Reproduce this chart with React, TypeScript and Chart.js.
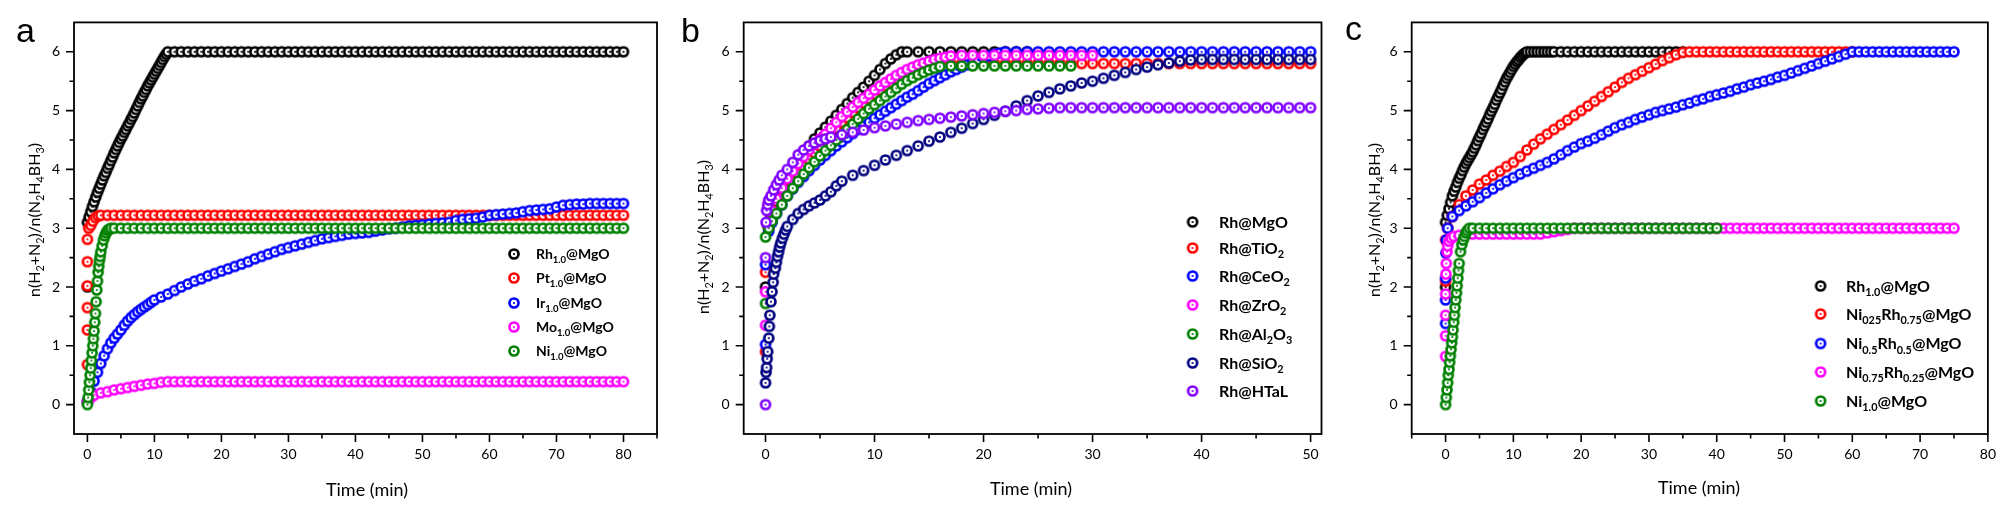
import { useEffect, useRef } from 'react'
import { Chart, registerables } from 'chart.js'

Chart.register(...registerables)

// ---------- panel a : M1.0@MgO ----------
const A_RH_T = [
  0,
  0, 0.25, 0.5, 0.75, 1, 1.25, 1.5, 1.75, 2, 2.25, 2.5, 2.75, 3, 3.25, 3.5, 3.75, 4, 4.25, 4.5, 4.75,
  5, 5.25, 5.5, 5.75, 6, 6.25, 6.5, 6.75, 7, 7.25, 7.5, 7.75, 8, 8.25, 8.5, 8.75, 9, 9.25, 9.5, 9.75,
  10, 10.25, 10.5, 10.75, 11, 11.25, 11.5, 11.75, 12,
  13, 14, 15, 16, 17, 18, 19, 20, 21, 22, 23, 24, 25, 26, 27, 28, 29, 30, 31, 32, 33, 34, 35, 36,
  37, 38, 39, 40, 41, 42, 43, 44, 45, 46, 47, 48, 49, 50, 51, 52, 53, 54, 55, 56, 57, 58, 59, 60,
  61, 62, 63, 64, 65, 66, 67, 68, 69, 70, 71, 72, 73, 74, 75, 76, 77, 78, 79, 80,
]
const A_RH_V = [
  2.0,
  3.10, 3.19, 3.28, 3.37, 3.45, 3.53, 3.61, 3.68, 3.75, 3.82, 3.89, 3.95, 4.02, 4.08, 4.15, 4.21, 4.28, 4.34, 4.40, 4.46,
  4.52, 4.57, 4.63, 4.68, 4.74, 4.79, 4.85, 4.90, 4.96, 5.02, 5.08, 5.14, 5.20, 5.25, 5.31, 5.36, 5.42, 5.47, 5.52, 5.57,
  5.62, 5.67, 5.72, 5.77, 5.82, 5.87, 5.92, 5.96, 6.00,
  6, 6, 6, 6, 6, 6, 6, 6, 6, 6, 6, 6, 6, 6, 6, 6, 6, 6, 6, 6, 6, 6, 6, 6,
  6, 6, 6, 6, 6, 6, 6, 6, 6, 6, 6, 6, 6, 6, 6, 6, 6, 6, 6, 6, 6, 6, 6, 6,
  6, 6, 6, 6, 6, 6, 6, 6, 6, 6, 6, 6, 6, 6, 6, 6, 6, 6, 6, 6,
]
const A_PT_T = [
  0, 0, 0, 0, 0, 0, 0.2, 0.5, 0.8, 1.2, 1.6, 2,
  3, 4, 5, 6, 7, 8, 9, 10, 11, 12, 13, 14, 15, 16, 17, 18, 19, 20, 21, 22, 23, 24, 25, 26, 27, 28,
  29, 30, 31, 32, 33, 34, 35, 36, 37, 38, 39, 40, 41, 42, 43, 44, 45, 46, 47, 48, 49, 50, 51, 52, 53, 54,
  55, 56, 57, 58, 59, 60, 61, 62, 63, 64, 65, 66, 67, 68, 69, 70, 71, 72, 73, 74, 75, 76, 77, 78, 79, 80,
]
const A_PT_V = [
  0.68, 1.27, 1.65, 2.02, 2.43, 2.81, 3.0, 3.05, 3.12, 3.18, 3.21, 3.22,
  3.22, 3.22, 3.22, 3.22, 3.22, 3.22, 3.22, 3.22, 3.22, 3.22, 3.22, 3.22, 3.22, 3.22, 3.22, 3.22, 3.22, 3.22, 3.22, 3.22, 3.22, 3.22, 3.22, 3.22, 3.22, 3.22,
  3.22, 3.22, 3.22, 3.22, 3.22, 3.22, 3.22, 3.22, 3.22, 3.22, 3.22, 3.22, 3.22, 3.22, 3.22, 3.22, 3.22, 3.22, 3.22, 3.22, 3.22, 3.22, 3.22, 3.22, 3.22, 3.22,
  3.22, 3.22, 3.22, 3.22, 3.22, 3.22, 3.22, 3.22, 3.22, 3.22, 3.22, 3.22, 3.22, 3.22, 3.22, 3.22, 3.22, 3.22, 3.22, 3.22, 3.22, 3.22, 3.22, 3.22, 3.22, 3.22,
]
const A_IR_T = [
  0, 0.5, 1, 1.5, 2, 2.5, 3, 3.5, 4, 4.5, 5, 5.5, 6, 6.5, 7, 7.5, 8, 8.5, 9, 9.5, 10,
  11, 12, 13, 14, 15, 16, 17, 18, 19, 20, 21, 22, 23, 24, 25, 26, 27, 28, 29, 30,
  31, 32, 33, 34, 35, 36, 37, 38, 39, 40, 41, 42, 43, 44, 45, 46, 47, 48, 49, 50,
  51, 52, 53, 54, 55, 56, 57, 58, 59, 60, 61, 62, 63, 64, 65, 66, 67, 68, 69, 70,
  71, 72, 73, 74, 75, 76, 77, 78, 79, 80,
]
const A_IR_V = [
  0.05, 0.22, 0.4, 0.55, 0.7, 0.83, 0.95, 1.05, 1.13, 1.2, 1.27, 1.35, 1.42, 1.48, 1.53, 1.58, 1.62, 1.66, 1.7, 1.74, 1.78,
  1.83, 1.88, 1.94, 2.0, 2.05, 2.1, 2.14, 2.19, 2.23, 2.27, 2.31, 2.35, 2.39, 2.43, 2.48, 2.52, 2.56, 2.6, 2.64, 2.67,
  2.7, 2.73, 2.76, 2.79, 2.82, 2.84, 2.86, 2.88, 2.9, 2.91, 2.92, 2.93, 2.95, 2.97, 2.99, 3.0, 3.02, 3.04, 3.05, 3.06,
  3.07, 3.08, 3.09, 3.1, 3.13, 3.15, 3.16, 3.17, 3.19, 3.22, 3.23, 3.24, 3.25, 3.26, 3.28, 3.3, 3.31, 3.32, 3.33, 3.36,
  3.39, 3.4, 3.41, 3.41, 3.42, 3.42, 3.42, 3.42, 3.42, 3.42,
]
const A_MO_T = [
  0, 0.5,
  1, 2, 3, 4, 5, 6, 7, 8, 9, 10, 11, 12, 13, 14, 15, 16, 17, 18, 19, 20, 21, 22, 23, 24, 25, 26, 27, 28, 29, 30,
  31, 32, 33, 34, 35, 36, 37, 38, 39, 40, 41, 42, 43, 44, 45, 46, 47, 48, 49, 50, 51, 52, 53, 54, 55, 56, 57, 58, 59, 60,
  61, 62, 63, 64, 65, 66, 67, 68, 69, 70, 71, 72, 73, 74, 75, 76, 77, 78, 79, 80,
]
const A_MO_V = [
  0.05, 0.12,
  0.16, 0.2, 0.22, 0.25, 0.27, 0.29, 0.31, 0.33, 0.35, 0.36, 0.38, 0.39, 0.39, 0.39, 0.39, 0.39, 0.39, 0.39, 0.39, 0.39, 0.39, 0.39, 0.39, 0.39, 0.39, 0.39, 0.39, 0.39, 0.39, 0.39,
  0.39, 0.39, 0.39, 0.39, 0.39, 0.39, 0.39, 0.39, 0.39, 0.39, 0.39, 0.39, 0.39, 0.39, 0.39, 0.39, 0.39, 0.39, 0.39, 0.39, 0.39, 0.39, 0.39, 0.39, 0.39, 0.39, 0.39, 0.39, 0.39, 0.39,
  0.39, 0.39, 0.39, 0.39, 0.39, 0.39, 0.39, 0.39, 0.39, 0.39, 0.39, 0.39, 0.39, 0.39, 0.39, 0.39, 0.39, 0.39, 0.39, 0.39,
]
const A_NI_T = [
  0, 0.1, 0.2, 0.3, 0.4, 0.5, 0.6, 0.7, 0.8, 0.9, 1.0, 1.1, 1.2, 1.3, 1.4, 1.5, 1.6, 1.7, 1.8, 1.9, 2.0,
  2.2, 2.4, 2.6, 2.8, 3.0, 3.2, 3.5,
  4, 5, 6, 7, 8, 9, 10, 11, 12, 13, 14, 15, 16, 17, 18, 19, 20, 21, 22, 23, 24, 25, 26, 27, 28, 29, 30,
  31, 32, 33, 34, 35, 36, 37, 38, 39, 40, 41, 42, 43, 44, 45, 46, 47, 48, 49, 50, 51, 52, 53, 54, 55,
  56, 57, 58, 59, 60, 61, 62, 63, 64, 65, 66, 67, 68, 69, 70, 71, 72, 73, 74, 75, 76, 77, 78, 79, 80,
]
const A_NI_V = [
  0, 0.12, 0.25, 0.38, 0.5, 0.62, 0.75, 0.88, 1.0, 1.12, 1.25, 1.4, 1.55, 1.75, 1.95, 2.1, 2.25, 2.35, 2.45, 2.52, 2.6,
  2.7, 2.8, 2.87, 2.92, 2.96, 2.98, 3.0,
  3, 3, 3, 3, 3, 3, 3, 3, 3, 3, 3, 3, 3, 3, 3, 3, 3, 3, 3, 3, 3, 3, 3, 3, 3, 3, 3,
  3, 3, 3, 3, 3, 3, 3, 3, 3, 3, 3, 3, 3, 3, 3, 3, 3, 3, 3, 3, 3, 3, 3, 3, 3,
  3, 3, 3, 3, 3, 3, 3, 3, 3, 3, 3, 3, 3, 3, 3, 3, 3, 3, 3, 3, 3, 3, 3, 3, 3,
]

// ---------- panel b : Rh on supports ----------
const B_MGO_T = [
  0, 0.2, 0.5, 1, 1.5, 2, 2.5, 3, 3.5, 4, 4.5, 5, 5.5, 6, 6.5, 7, 7.5, 8, 8.5, 9, 9.5, 10, 10.5, 11, 11.5, 12, 12.5,
  13, 14, 15, 16, 17, 18, 19, 20, 21, 22, 23, 24,
]
const B_MGO_V = [
  2.0, 3.05, 3.2, 3.45, 3.65, 3.82, 3.97, 4.15, 4.28, 4.4, 4.52, 4.62, 4.72, 4.82, 4.92, 5.02, 5.12, 5.22, 5.31, 5.4, 5.5, 5.6, 5.7, 5.8, 5.88, 5.95, 6.0,
  6, 6, 6, 6, 6, 6, 6, 6, 6, 6, 6, 6,
]
const B_TIO_T = [
  0, 0, 0.3, 0.6,
  1, 1.5, 2, 2.5, 3, 3.5, 4, 4.5, 5, 5.5, 6, 6.5, 7, 7.5, 8, 8.5, 9, 9.5, 10, 10.5, 11, 11.5, 12, 12.5, 13, 13.5, 14, 14.5, 15,
  16, 17, 18, 19, 20, 21, 22, 23, 24, 25, 26, 27, 28, 29, 30, 31, 32, 33,
  34, 35, 36, 37, 38, 39, 40, 41, 42, 43, 44, 45, 46, 47, 48, 49, 50,
]
const B_TIO_V = [
  0.9, 2.25, 3.0, 3.15,
  3.3, 3.5, 3.65, 3.8, 3.93, 4.05, 4.17, 4.28, 4.4, 4.5, 4.6, 4.7, 4.8, 4.88, 4.97, 5.05, 5.13, 5.2, 5.28, 5.35, 5.42, 5.48, 5.54, 5.6, 5.65, 5.7, 5.74, 5.77, 5.79,
  5.8, 5.8, 5.8, 5.8, 5.8, 5.8, 5.8, 5.8, 5.8, 5.8, 5.8, 5.8, 5.8, 5.8, 5.8, 5.8, 5.8, 5.8,
  5.8, 5.8, 5.8, 5.8, 5.8, 5.8, 5.8, 5.8, 5.8, 5.8, 5.8, 5.8, 5.8, 5.8, 5.8, 5.8, 5.8,
]
const B_CEO_T = [
  0, 0, 0.3, 0.6,
  1, 1.5, 2, 2.5, 3, 3.5, 4, 4.5, 5, 5.5, 6, 6.5, 7, 7.5, 8, 8.5, 9, 9.5, 10, 10.5, 11, 11.5,
  12, 12.5, 13, 13.5, 14, 14.5, 15, 15.5, 16, 16.5, 17, 17.5, 18, 18.5, 19, 19.5, 20, 20.5, 21, 21.5, 22,
  23, 24, 25, 26, 27, 28, 29, 30, 31, 32, 33, 34, 35, 36, 37, 38, 39, 40, 41, 42, 43, 44, 45, 46, 47, 48, 49, 50,
]
const B_CEO_V = [
  1.02, 2.38, 2.95, 3.1,
  3.25, 3.4, 3.55, 3.67, 3.78, 3.88, 3.98, 4.07, 4.16, 4.24, 4.32, 4.4, 4.47, 4.54, 4.61, 4.68, 4.74, 4.8, 4.87, 4.93, 4.99, 5.05,
  5.11, 5.17, 5.23, 5.28, 5.34, 5.4, 5.46, 5.51, 5.56, 5.61, 5.66, 5.7, 5.74, 5.78, 5.82, 5.86, 5.9, 5.93, 5.96, 5.98, 6.0,
  6, 6, 6, 6, 6, 6, 6, 6, 6, 6, 6, 6, 6, 6, 6, 6, 6, 6, 6, 6, 6, 6, 6, 6, 6, 6, 6, 6,
]
const B_ZRO_T = [
  0, 0, 0.2, 0.5,
  1, 1.5, 2, 2.5, 3, 3.5, 4, 4.5, 5, 5.5, 6, 6.5, 7, 7.5, 8, 8.5, 9, 9.5, 10, 10.5, 11, 11.5,
  12, 12.5, 13, 13.5, 14, 14.5, 15, 15.5, 16, 16.5, 17,
  18, 19, 20, 21, 22, 23, 24, 25, 26, 27, 28, 29, 30,
]
const B_ZRO_V = [
  1.35, 1.92, 3.1, 3.3,
  3.5, 3.68, 3.84, 3.97, 4.1, 4.22, 4.33, 4.43, 4.52, 4.6, 4.7, 4.8, 4.9, 4.98, 5.06, 5.14, 5.21, 5.28, 5.35, 5.42, 5.48, 5.54,
  5.6, 5.65, 5.7, 5.74, 5.78, 5.81, 5.84, 5.87, 5.89, 5.91, 5.93,
  5.94, 5.94, 5.94, 5.94, 5.94, 5.94, 5.94, 5.94, 5.94, 5.94, 5.94, 5.94, 5.94,
]
const B_ALO_T = [
  0, 0, 0.3, 0.6,
  1, 1.5, 2, 2.5, 3, 3.5, 4, 4.5, 5, 5.5, 6, 6.5, 7, 7.5, 8, 8.5, 9, 9.5, 10, 10.5, 11, 11.5,
  12, 12.5, 13, 13.5, 14, 14.5, 15, 15.5, 16,
  17, 18, 19, 20, 21, 22, 23, 24, 25, 26, 27, 28,
]
const B_ALO_V = [
  1.72, 2.85, 3.0, 3.12,
  3.25, 3.4, 3.55, 3.68, 3.8, 3.92, 4.03, 4.13, 4.23, 4.32, 4.41, 4.5, 4.59, 4.68, 4.77, 4.86, 4.95, 5.03, 5.1, 5.17, 5.24, 5.31,
  5.38, 5.45, 5.51, 5.56, 5.61, 5.65, 5.69, 5.72, 5.75,
  5.76, 5.76, 5.76, 5.76, 5.76, 5.76, 5.76, 5.76, 5.76, 5.76, 5.76, 5.76,
]
const B_SIO_T = [
  0, 0.05, 0.1, 0.15, 0.2, 0.3, 0.35, 0.4, 0.5, 0.6, 0.7, 0.75, 0.9, 1.0, 1.1, 1.2, 1.3, 1.4, 1.55, 1.7, 1.85, 2,
  2.5, 3, 3.5, 4, 4.5, 5, 5.5, 6, 6.5, 7,
  8, 9, 10, 11, 12, 13, 14, 15, 16, 17, 18, 19, 20, 21, 22, 23, 24, 25, 26, 27, 28, 29,
  30, 31, 32, 33, 34, 35, 36, 37, 38, 39, 40, 41, 42, 43, 44, 45, 46, 47, 48, 49, 50,
]
const B_SIO_V = [
  0.37, 0.55, 0.63, 0.78, 0.9, 1.13, 1.33, 1.52, 1.75, 1.92, 2.08, 2.22, 2.32, 2.42, 2.52, 2.6, 2.68, 2.75, 2.83, 2.9, 2.97, 3.03,
  3.15, 3.25, 3.32, 3.38, 3.43, 3.48, 3.55, 3.62, 3.72, 3.8,
  3.9, 3.98, 4.07, 4.16, 4.24, 4.32, 4.4, 4.48, 4.55, 4.63, 4.7, 4.78, 4.85, 4.92, 4.99, 5.08, 5.17, 5.25, 5.31, 5.37, 5.42, 5.47,
  5.5, 5.55, 5.6, 5.65, 5.7, 5.74, 5.78, 5.81, 5.84, 5.86, 5.87, 5.87, 5.87, 5.87, 5.87, 5.87, 5.87, 5.87, 5.87, 5.87, 5.87,
]
const B_HTAL_T = [
  0, 0, 0.05, 0.1, 0.2, 0.3, 0.5, 0.75, 1, 1.25, 1.5, 2, 2.5, 3, 3.5, 4, 4.5, 5, 5.5, 6,
  7, 8, 9, 10, 11, 12, 13, 14, 15, 16, 17, 18, 19, 20, 21, 22, 23, 24, 25, 26,
  27, 28, 29, 30, 31, 32, 33, 34, 35, 36, 37, 38, 39, 40, 41, 42, 43, 44, 45, 46, 47, 48, 49, 50,
]
const B_HTAL_V = [
  0, 2.5, 3.1, 3.3, 3.4, 3.48, 3.55, 3.65, 3.74, 3.82, 3.9, 4.0, 4.12, 4.25, 4.33, 4.4, 4.45, 4.49, 4.52, 4.55,
  4.59, 4.63, 4.67, 4.71, 4.74, 4.77, 4.8, 4.83, 4.85, 4.87, 4.89, 4.91, 4.93, 4.95, 4.97, 4.99, 5.0, 5.02, 5.03, 5.04,
  5.05, 5.05, 5.05, 5.05, 5.05, 5.05, 5.05, 5.05, 5.05, 5.05, 5.05, 5.05, 5.05, 5.05, 5.05, 5.05, 5.05, 5.05, 5.05, 5.05, 5.05, 5.05, 5.05, 5.05,
]

// ---------- panel c : NixRhy@MgO ----------
const C_RH_T = [
  0,
  0, 0.25, 0.5, 0.75, 1, 1.25, 1.5, 1.75, 2, 2.25, 2.5, 2.75, 3, 3.25, 3.5, 3.75, 4, 4.25, 4.5, 4.75,
  5, 5.25, 5.5, 5.75, 6, 6.25, 6.5, 6.75, 7, 7.25, 7.5, 7.75, 8, 8.25, 8.5, 8.75, 9, 9.25, 9.5, 9.75,
  10, 10.25, 10.5, 10.75, 11, 11.25, 11.5, 11.75, 12,
  12.5, 13, 13.5, 14, 14.5, 15, 15.5, 16,
  17, 18, 19, 20, 21, 22, 23, 24, 25, 26, 27, 28, 29, 30, 31, 32, 33, 34, 35,
]
const C_RH_V = [
  2.0,
  3.10, 3.22, 3.33, 3.44, 3.55, 3.63, 3.70, 3.78, 3.85, 3.91, 3.98, 4.04, 4.10, 4.15, 4.20, 4.25, 4.30, 4.36, 4.42, 4.49,
  4.55, 4.61, 4.68, 4.74, 4.80, 4.86, 4.93, 4.99, 5.05, 5.11, 5.18, 5.24, 5.30, 5.36, 5.43, 5.49, 5.55, 5.60, 5.65, 5.70,
  5.75, 5.79, 5.83, 5.86, 5.90, 5.93, 5.96, 5.98, 6.00,
  6, 6, 6, 6, 6, 6, 6, 6,
  6, 6, 6, 6, 6, 6, 6, 6, 6, 6, 6, 6, 6, 6, 6, 6, 6, 6, 6,
]
const C_NI25_T = [
  0, 0, 0.3,
  1, 2, 3, 4, 5, 6, 7, 8, 9, 10, 11, 12, 13, 14, 15, 16, 17, 18, 19, 20,
  21, 22, 23, 24, 25, 26, 27, 28, 29, 30, 31, 32, 33, 34, 35,
  36, 37, 38, 39, 40, 41, 42, 43, 44, 45, 46, 47, 48, 49, 50, 51, 52, 53, 54, 55, 56, 57, 58, 59, 60,
]
const C_NI25_V = [
  2.1, 2.8, 3.0,
  3.2, 3.4, 3.55, 3.65, 3.75, 3.82, 3.9, 3.97, 4.05, 4.12, 4.22, 4.33, 4.43, 4.52, 4.6, 4.68, 4.76, 4.84, 4.92, 5.0,
  5.08, 5.16, 5.24, 5.32, 5.4, 5.48, 5.55, 5.61, 5.67, 5.73, 5.79, 5.85, 5.9, 5.95, 5.99,
  6, 6, 6, 6, 6, 6, 6, 6, 6, 6, 6, 6, 6, 6, 6, 6, 6, 6, 6, 6, 6, 6, 6, 6, 6,
]
const C_NI5_T = [
  0, 0, 0, 0.05, 0.1, 0.3,
  1, 2, 3, 4, 5, 6, 7, 8, 9, 10, 11, 12, 13, 14, 15, 16, 17, 18, 19, 20,
  21, 22, 23, 24, 25, 26, 27, 28, 29, 30, 31, 32, 33, 34, 35, 36, 37, 38, 39, 40,
  41, 42, 43, 44, 45, 46, 47, 48, 49, 50, 51, 52, 53, 54, 55, 56, 57, 58, 59,
  60, 61, 62, 63, 64, 65, 66, 67, 68, 69, 70, 71, 72, 73, 74, 75,
]
const C_NI5_V = [
  1.38, 1.78, 2.15, 2.58, 2.8, 3.0,
  3.2, 3.3, 3.38, 3.45, 3.52, 3.6, 3.67, 3.74, 3.8, 3.86, 3.92, 3.97, 4.02, 4.07, 4.12, 4.18, 4.25, 4.32, 4.38, 4.44,
  4.48, 4.53, 4.59, 4.65, 4.71, 4.76, 4.8, 4.85, 4.89, 4.93, 4.97, 5.0, 5.03, 5.06, 5.1, 5.13, 5.17, 5.2, 5.24, 5.27,
  5.3, 5.33, 5.37, 5.4, 5.44, 5.47, 5.5, 5.53, 5.57, 5.6, 5.64, 5.68, 5.72, 5.76, 5.8, 5.84, 5.88, 5.92, 5.96,
  6, 6, 6, 6, 6, 6, 6, 6, 6, 6, 6, 6, 6, 6, 6, 6,
]
const C_NI75_T = [
  0, 0, 0, 0, 0.05, 0.1, 0.2, 0.3, 0.5, 0.8, 1.2, 2,
  3, 4, 5, 6, 7, 8, 9, 10, 11, 12, 13, 14, 15, 16, 17, 18,
  19, 20, 21, 22, 23, 24, 25, 26, 27, 28, 29, 30, 31, 32, 33, 34, 35, 36, 37, 38, 39, 40, 41, 42, 43, 44, 45, 46, 47,
  48, 49, 50, 51, 52, 53, 54, 55, 56, 57, 58, 59, 60, 61, 62, 63, 64, 65, 66, 67, 68, 69, 70, 71, 72, 73, 74, 75,
]
const C_NI75_V = [
  0.82, 1.17, 1.52, 1.88, 2.22, 2.4, 2.6, 2.7, 2.78, 2.83, 2.86, 2.88,
  2.9, 2.9, 2.9, 2.9, 2.9, 2.9, 2.9, 2.9, 2.9, 2.9, 2.9, 2.9, 2.92, 2.94, 2.96, 2.98,
  3, 3, 3, 3, 3, 3, 3, 3, 3, 3, 3, 3, 3, 3, 3, 3, 3, 3, 3, 3, 3, 3, 3, 3, 3, 3, 3, 3, 3,
  3, 3, 3, 3, 3, 3, 3, 3, 3, 3, 3, 3, 3, 3, 3, 3, 3, 3, 3, 3, 3, 3, 3, 3, 3, 3, 3, 3,
]
const C_NI_T = [
  0, 0.1, 0.2, 0.3, 0.4, 0.5, 0.6, 0.7, 0.8, 0.9, 1.0, 1.1, 1.2, 1.3, 1.4, 1.5, 1.6, 1.7, 1.8, 1.9, 2.0,
  2.2, 2.4, 2.6, 2.8, 3.0, 3.2, 3.5,
  4, 5, 6, 7, 8, 9, 10, 11, 12, 13, 14, 15, 16, 17, 18, 19, 20, 21, 22,
  23, 24, 25, 26, 27, 28, 29, 30, 31, 32, 33, 34, 35, 36, 37, 38, 39, 40,
]
const C_NI_V = [
  0, 0.12, 0.25, 0.37, 0.5, 0.6, 0.72, 0.83, 0.94, 1.05, 1.15, 1.27, 1.4, 1.52, 1.65, 1.78, 1.9, 2.02, 2.15, 2.28, 2.4,
  2.6, 2.72, 2.8, 2.86, 2.92, 2.96, 3.0,
  3, 3, 3, 3, 3, 3, 3, 3, 3, 3, 3, 3, 3, 3, 3, 3, 3, 3, 3,
  3, 3, 3, 3, 3, 3, 3, 3, 3, 3, 3, 3, 3, 3, 3, 3, 3, 3,
]

// ticks
const Y_TICKS = [0, 1, 2, 3, 4, 5, 6]
const Y_MINOR = [0.5, 1.5, 2.5, 3.5, 4.5, 5.5]
const A_XTICKS = [0, 10, 20, 30, 40, 50, 60, 70, 80]
const A_XMINOR = [5, 15, 25, 35, 45, 55, 65, 75, 85]
const B_XTICKS = [0, 10, 20, 30, 40, 50]
const B_XMINOR = [5, 15, 25, 35, 45]
const C_XTICKS = [0, 10, 20, 30, 40, 50, 60, 70, 80]
const C_XMINOR = [-5, 5, 15, 25, 35, 45, 55, 65, 75]

const Y_TITLE = 'n(H_{2}+N_{2})/n(N_{2}H_{4}BH_{3})'
const X_TITLE = 'Time (min)'

const BLACK = '#000000'
const RED = '#ff0000'
const BLUE = '#0000ff'
const MAGENTA = '#ff00ff'
const GREEN = '#008000'
const NAVY = '#000080'
const VIOLET = '#8000ff'

const FONT = 'Lato, "Open Sans", sans-serif'
const H = 512

type Series = { label: string; color: string; t: number[]; v: number[] }
type PanelDef = {
  letter: string
  left: number
  width: number
  areaLeft: number
  areaRight: number
  xMin: number
  xMax: number
  xTicks: number[]
  xMinor: number[]
  letterPos: [number, number]
  yTitlePos: [number, number]
  xTitlePos: [number, number]
  legend: { mx: number; tx: number; rows: number[]; size: number }
  series: Series[]
}

const PANELS: PanelDef[] = [
  {
    letter: 'a', left: 0, width: 670, areaLeft: 74, areaRight: 657,
    xMin: -2, xMax: 85, xTicks: A_XTICKS, xMinor: A_XMINOR,
    letterPos: [16, 42], yTitlePos: [34, 220], xTitlePos: [367, 490],
    legend: { mx: 514, tx: 536, rows: [254, 278, 303, 327, 351], size: 14 },
    series: [
      { label: 'Rh_{1.0}@MgO', color: BLACK, t: A_RH_T, v: A_RH_V },
      { label: 'Pt_{1.0}@MgO', color: RED, t: A_PT_T, v: A_PT_V },
      { label: 'Ir_{1.0}@MgO', color: BLUE, t: A_IR_T, v: A_IR_V },
      { label: 'Mo_{1.0}@MgO', color: MAGENTA, t: A_MO_T, v: A_MO_V },
      { label: 'Ni_{1.0}@MgO', color: GREEN, t: A_NI_T, v: A_NI_V },
    ],
  },
  {
    letter: 'b', left: 670, width: 670, areaLeft: 73.7, areaRight: 651.5,
    xMin: -2, xMax: 51, xTicks: B_XTICKS, xMinor: B_XMINOR,
    letterPos: [11, 42], yTitlePos: [33, 237], xTitlePos: [361, 489],
    legend: { mx: 522.6, tx: 549, rows: [222, 248, 276, 305, 334, 363, 391], size: 16 },
    series: [
      { label: 'Rh@MgO', color: BLACK, t: B_MGO_T, v: B_MGO_V },
      { label: 'Rh@TiO_{2}', color: RED, t: B_TIO_T, v: B_TIO_V },
      { label: 'Rh@CeO_{2}', color: BLUE, t: B_CEO_T, v: B_CEO_V },
      { label: 'Rh@ZrO_{2}', color: MAGENTA, t: B_ZRO_T, v: B_ZRO_V },
      { label: 'Rh@Al_{2}O_{3}', color: GREEN, t: B_ALO_T, v: B_ALO_V },
      { label: 'Rh@SiO_{2}', color: NAVY, t: B_SIO_T, v: B_SIO_V },
      { label: 'Rh@HTaL', color: VIOLET, t: B_HTAL_T, v: B_HTAL_V },
    ],
  },
  {
    letter: 'c', left: 1340, width: 668, areaLeft: 71.7, areaRight: 650,
    xMin: -5, xMax: 80, xTicks: C_XTICKS, xMinor: C_XMINOR,
    letterPos: [5, 40], yTitlePos: [34, 220], xTitlePos: [359, 488],
    legend: { mx: 480.6, tx: 506, rows: [286, 314, 343.5, 372, 401], size: 16 },
    series: [
      { label: 'Rh_{1.0}@MgO', color: BLACK, t: C_RH_T, v: C_RH_V },
      { label: 'Ni_{025}Rh_{0.75}@MgO', color: RED, t: C_NI25_T, v: C_NI25_V },
      { label: 'Ni_{0.5}Rh_{0.5}@MgO', color: BLUE, t: C_NI5_T, v: C_NI5_V },
      { label: 'Ni_{0.75}Rh_{0.25}@MgO', color: MAGENTA, t: C_NI75_T, v: C_NI75_V },
      { label: 'Ni_{1.0}@MgO', color: GREEN, t: C_NI_T, v: C_NI_V },
    ],
  },
]

// hollow circle with a centre dot, as Origin draws it
const markers: Record<string, HTMLCanvasElement> = {}
function marker(color: string) {
  if (markers[color]) return markers[color]
  const c = document.createElement('canvas')
  c.width = 14
  c.height = 14
  const g = c.getContext('2d')!
  g.beginPath()
  g.arc(7, 7, 4.5, 0, Math.PI * 2)
  g.fillStyle = '#fff'
  g.fill()
  g.lineWidth = 2.7
  g.strokeStyle = color
  g.stroke()
  g.beginPath()
  g.arc(7, 7, 1.1, 0, Math.PI * 2)
  g.fillStyle = color
  g.fill()
  markers[color] = c
  return c
}

// "Rh_{1.0}@MgO" -> runs of normal / subscript text
function runs(s: string) {
  const out: { t: string; sub: boolean }[] = []
  const re = /_\{([^}]*)\}/g
  let last = 0
  let m: RegExpExecArray | null
  while ((m = re.exec(s))) {
    if (m.index > last) out.push({ t: s.slice(last, m.index), sub: false })
    out.push({ t: m[1], sub: true })
    last = re.lastIndex
  }
  if (last < s.length) out.push({ t: s.slice(last), sub: false })
  return out
}

function drawRich(ctx: CanvasRenderingContext2D, s: string, x: number, midY: number, size: number, weight: string, align: 'left' | 'center') {
  const rs = runs(s)
  const font = (sub: boolean) => `${weight} ${sub ? size * 0.68 : size}px ${FONT}`
  let w = 0
  for (const r of rs) {
    ctx.font = font(r.sub)
    w += ctx.measureText(r.t).width
  }
  let cx = align === 'center' ? x - w / 2 : x
  const base = midY + size * 0.36
  ctx.textAlign = 'left'
  ctx.textBaseline = 'alphabetic'
  for (const r of rs) {
    ctx.font = font(r.sub)
    ctx.fillText(r.t, cx, r.sub ? base + size * 0.28 : base)
    cx += ctx.measureText(r.t).width
  }
}

function makeDecor(p: PanelDef) {
  return {
    id: 'decor',
    afterDraw(chart: Chart) {
      const { ctx, chartArea: a } = chart
      const xs = chart.scales.x
      const ys = chart.scales.y
      ctx.save()
      ctx.strokeStyle = '#000'
      ctx.lineWidth = 1.8
      ctx.strokeRect(a.left, a.top, a.right - a.left, a.bottom - a.top)
      ctx.lineWidth = 1.6
      ctx.beginPath()
      for (const v of p.xTicks) {
        const x = xs.getPixelForValue(v)
        ctx.moveTo(x, a.bottom)
        ctx.lineTo(x, a.bottom + 8)
      }
      for (const v of p.xMinor) {
        const x = xs.getPixelForValue(v)
        ctx.moveTo(x, a.bottom)
        ctx.lineTo(x, a.bottom + 4.5)
      }
      for (const v of Y_TICKS) {
        const y = ys.getPixelForValue(v)
        ctx.moveTo(a.left, y)
        ctx.lineTo(a.left - 8, y)
      }
      for (const v of Y_MINOR) {
        const y = ys.getPixelForValue(v)
        ctx.moveTo(a.left, y)
        ctx.lineTo(a.left - 4.5, y)
      }
      ctx.stroke()

      ctx.fillStyle = '#000'
      ctx.font = '34px "Liberation Sans", Arial, sans-serif'
      ctx.textAlign = 'left'
      ctx.textBaseline = 'alphabetic'
      ctx.fillText(p.letter, p.letterPos[0], p.letterPos[1])

      drawRich(ctx, X_TITLE, p.xTitlePos[0], p.xTitlePos[1], 18, 'normal', 'center')

      ctx.save()
      ctx.translate(p.yTitlePos[0], p.yTitlePos[1])
      ctx.rotate(-Math.PI / 2)
      drawRich(ctx, Y_TITLE, 0, 0, 16, 'normal', 'center')
      ctx.restore()

      const lg = p.legend
      p.series.forEach((s, i) => {
        const y = lg.rows[i]
        ctx.drawImage(marker(s.color), lg.mx - 7, y - 7)
        drawRich(ctx, s.label, lg.tx, y, lg.size, 'bold', 'left')
      })
      ctx.restore()
    },
  }
}

function Panel({ p }: { p: PanelDef }) {
  const canvasRef = useRef<HTMLCanvasElement>(null)

  useEffect(() => {
    if (!canvasRef.current) return
    const chart = new Chart(canvasRef.current, {
      type: 'scatter',
      data: {
        datasets: p.series.map((s, i) => ({
          label: s.label,
          data: s.t.map((t, j) => ({ x: t, y: s.v[j] })),
          pointStyle: marker(s.color),
          pointRadius: 5,
          borderColor: s.color,
          backgroundColor: '#fff',
          showLine: false,
          order: -i,
        })),
      },
      options: {
        responsive: false,
        animation: false,
        events: [],
        layout: { padding: { left: 0, right: p.width - p.areaRight, top: 5.6, bottom: 0 } },
        plugins: { legend: { display: false }, tooltip: { enabled: false } },
        scales: {
          x: {
            type: 'linear',
            min: p.xMin,
            max: p.xMax,
            grid: { display: false, drawTicks: false },
            border: { display: false },
            ticks: {
              padding: 12,
              color: '#000',
              autoSkip: false,
              maxRotation: 0,
              font: { family: FONT, size: 14 },
              callback: (v) => String(v),
            },
            afterBuildTicks: (s) => { s.ticks = p.xTicks.map(v => ({ value: v })) },
            afterFit: (s) => { s.height = H - 434 },
          },
          y: {
            type: 'linear',
            min: -0.5,
            max: 6.5,
            grid: { display: false, drawTicks: false },
            border: { display: false },
            ticks: {
              padding: 14,
              color: '#000',
              autoSkip: false,
              font: { family: FONT, size: 14 },
              callback: (v) => String(v),
            },
            afterBuildTicks: (s) => { s.ticks = Y_TICKS.map(v => ({ value: v })) },
            afterFit: (s) => { s.width = p.areaLeft },
          },
        },
      },
      plugins: [makeDecor(p)],
    })
    return () => { chart.destroy() }
  }, [p])

  return (
    <canvas
      ref={canvasRef}
      width={p.width}
      height={H}
      style={{ position: 'absolute', left: p.left, top: 0, width: p.width, height: H }}
    />
  )
}

export default function App() {
  return (
    <div style={{ position: 'absolute', left: 0, top: 0, width: 2008, height: H, background: '#fff', overflow: 'hidden' }}>
      {PANELS.map(p => <Panel key={p.letter} p={p} />)}
    </div>
  )
}
